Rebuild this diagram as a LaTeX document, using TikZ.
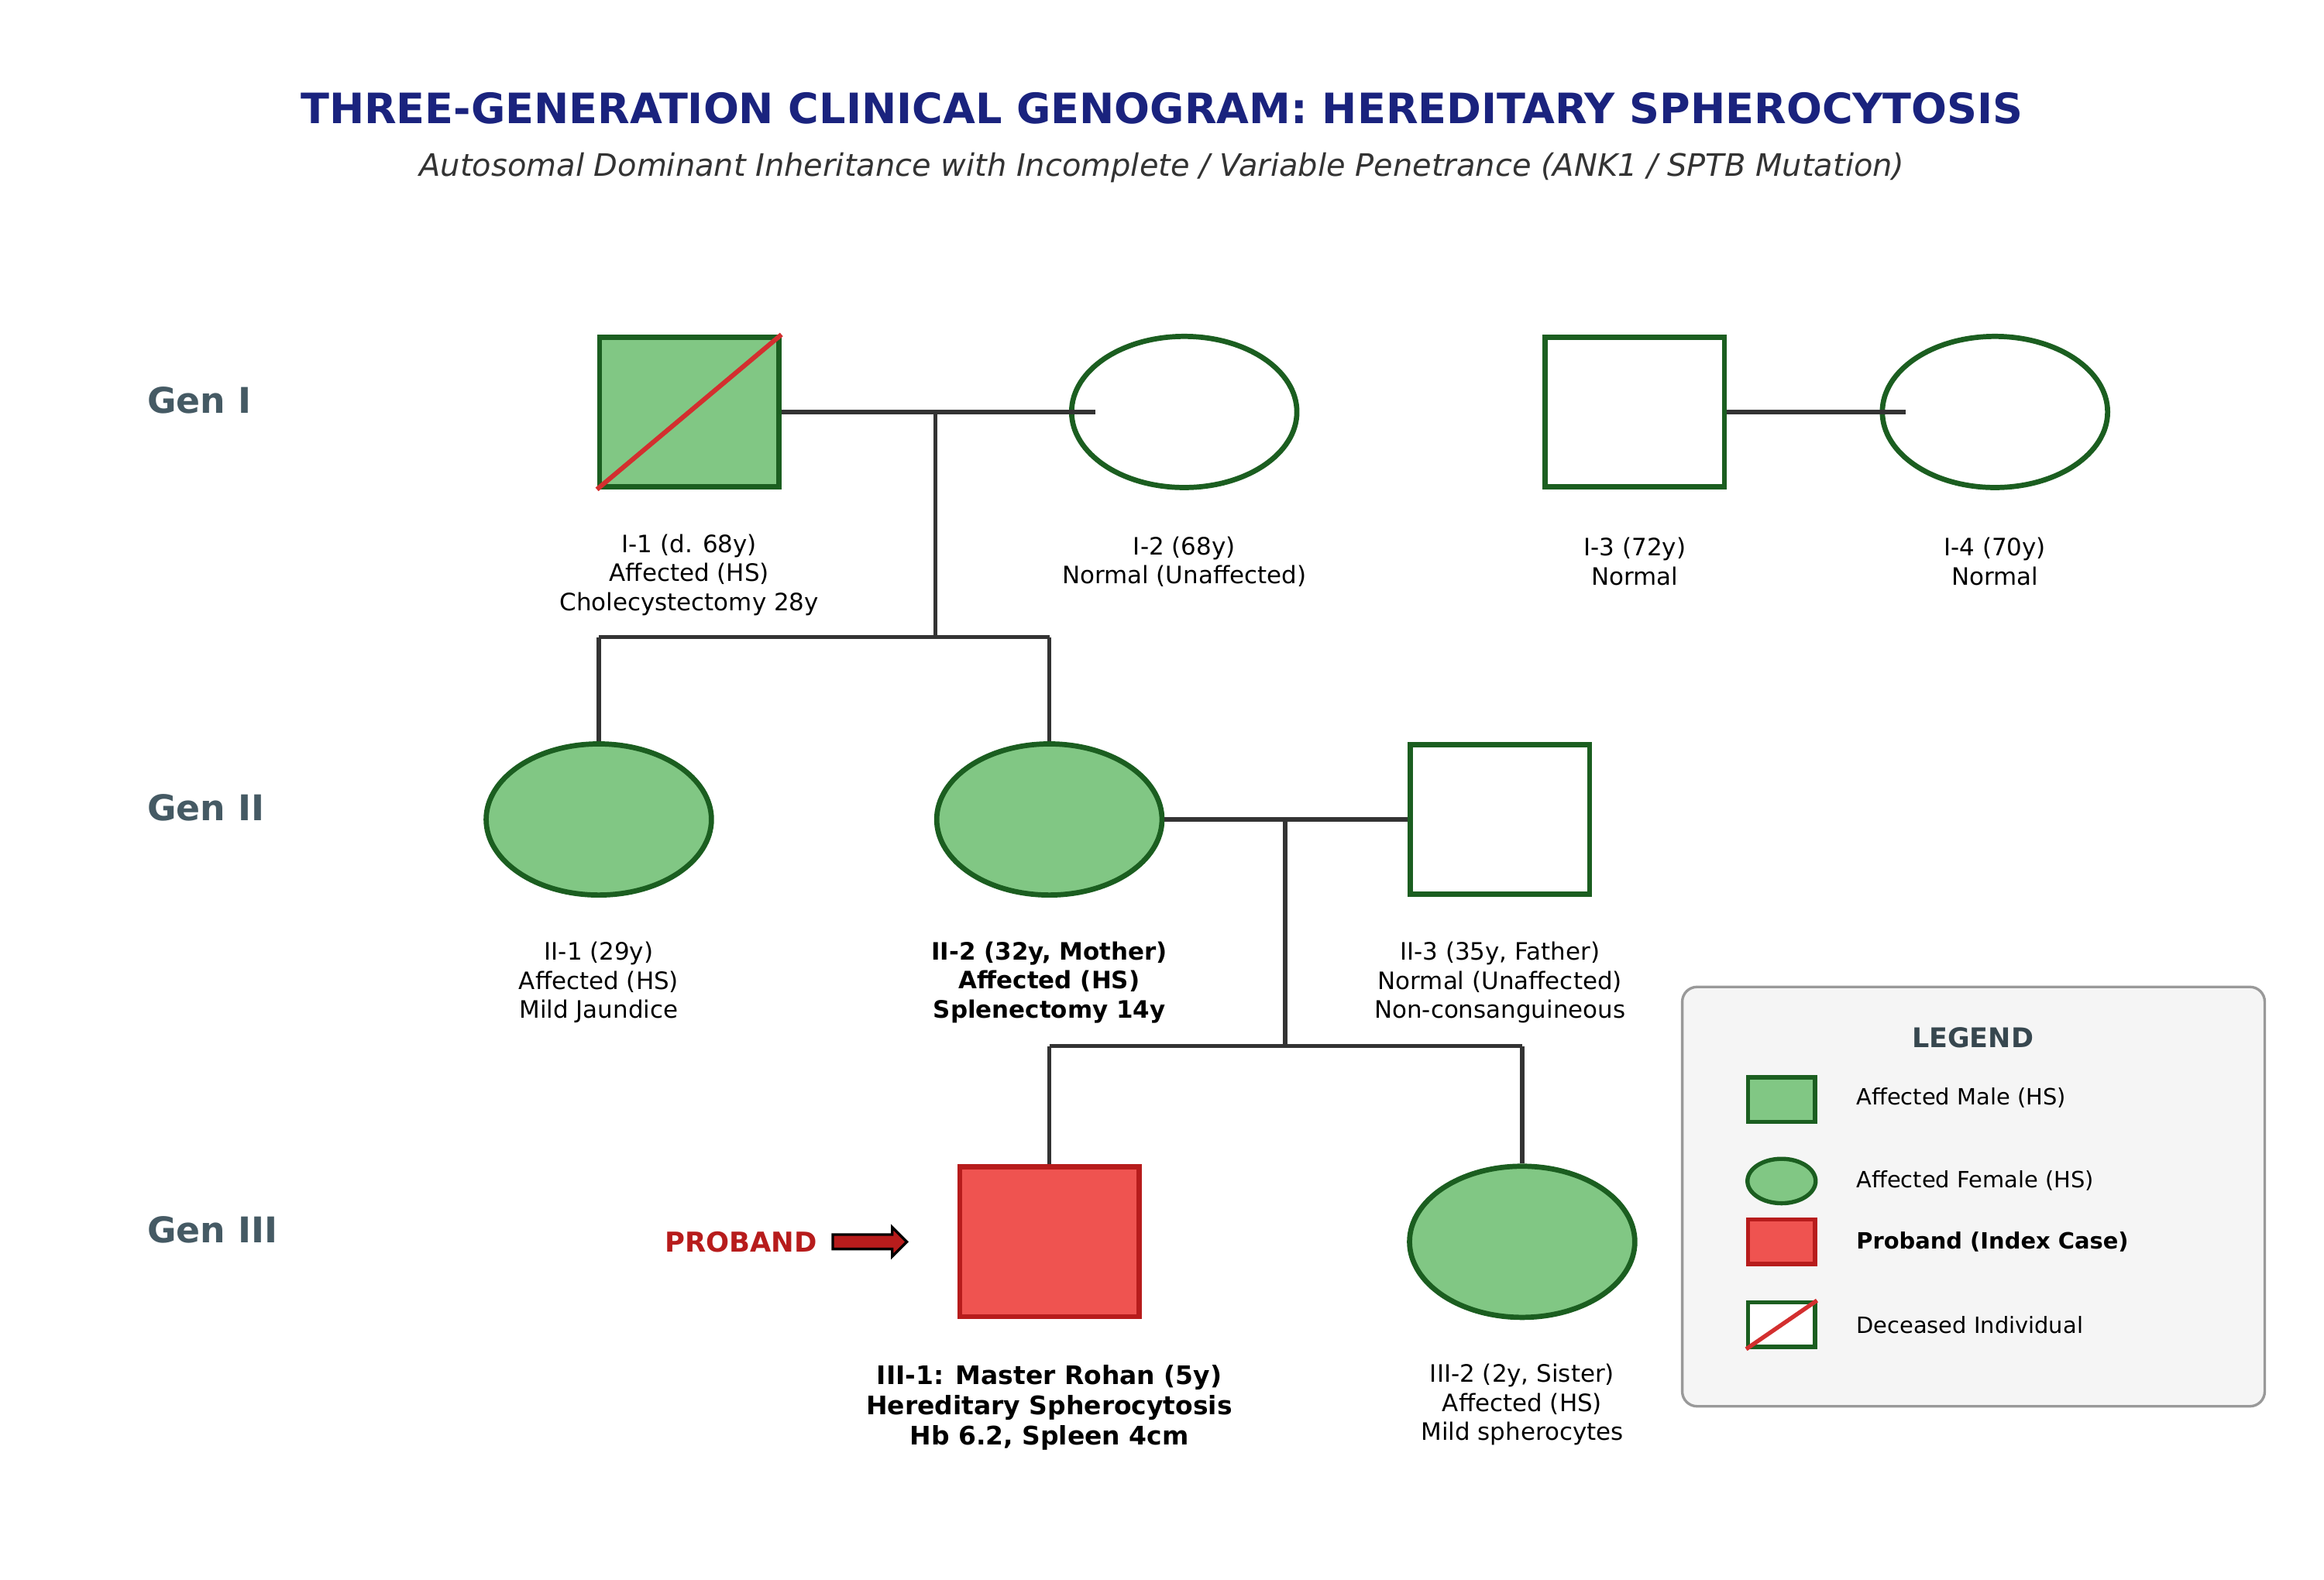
\documentclass[tikz,border=0pt]{standalone}
\usepackage{fontspec}
\setmainfont{DejaVu Sans}
\usetikzlibrary{shapes.geometric,shapes.arrows}
\definecolor{ggreen}{HTML}{81C784}
\definecolor{dgreen}{HTML}{1B5E20}
\definecolor{pred}{HTML}{EF5350}
\definecolor{dred}{HTML}{B71C1C}
\definecolor{lred}{HTML}{D32F2F}
\definecolor{navy}{HTML}{1A237E}
\definecolor{slate}{HTML}{455A64}
\definecolor{dslate}{HTML}{37474F}
\definecolor{lline}{HTML}{333333}
\begin{document}
\begin{tikzpicture}[x=0.05cm,y=-0.05cm,
  sq/.style={draw=dgreen,line width=5pt,rectangle,minimum width=6.05cm,minimum height=5.05cm,inner sep=0},
  el/.style={draw=dgreen,line width=5pt,ellipse,minimum width=7.6cm,minimum height=5.1cm,inner sep=0},
  aff/.style={fill=ggreen},
  con/.style={draw=lline,line width=4pt},
  lab/.style={align=center,font=\fontsize{23}{28}\selectfont},
  blab/.style={align=center,font=\fontsize{23}{28}\selectfont\bfseries},
  gen/.style={anchor=west,text=slate,font=\fontsize{34}{38}\selectfont\bfseries},
  leg/.style={anchor=west,font=\fontsize{21.5}{24}\selectfont}]
\useasboundingbox (0,0) rectangle (1568,1066);
\fill[white] (0,0) rectangle (1568,1066);
\node[text=navy,font=\fontsize{40.2}{46}\selectfont\bfseries] (title) at (784,73) {THREE-GENERATION CLINICAL GENOGRAM: HEREDITARY SPHEROCYTOSIS};
\node[text=lline,font=\fontsize{29.7}{34}\selectfont\itshape] (sub) at (784,113) {Autosomal Dominant Inheritance with Incomplete / Variable Penetrance (ANK1 / SPTB Mutation)};
\node[gen] (g1) at (97,270) {Gen I};
\node[gen] (g2) at (97,545) {Gen II};
\node[gen] (g3) at (97,830) {Gen III};
\coordinate (m1) at (631,278);
\coordinate (s1) at (631,430);
\coordinate (s1l) at (404,430);
\coordinate (s1r) at (708,430);
\coordinate (i2in) at (739,278);
\coordinate (i4in) at (1286,278);
\coordinate (m2) at (867,553);
\coordinate (s2) at (867,706);
\coordinate (s2l) at (708,706);
\coordinate (s2r) at (1027,706);
\draw[con] (1103,278) -- (i4in);
\draw[con] (m1) -- (s1);
\draw[con] (s1l) -- (s1r);
\draw[con] (s1l) -- (404,502);
\draw[con] (s1r) -- (708,502);
\draw[con] (708,553) -- (1012,553);
\draw[con] (s2l) -- (s2r);
% Gen I
\node[sq,aff] (I1) at (465,278) {};
\draw[lred,line width=4.5pt] (I1.south west) -- (I1.north east);
\node[el,fill=white] (I2) at (799,278) {};
\draw[con] (I1.east) -- (i2in);
\node[sq,fill=white] (I3) at (1103,278) {};
\node[el,fill=white] (I4) at (1346,278) {};
\draw[con] (I3.east) -- (i4in);
\node[lab] (lI1) at (465,388) {I-1 (d. 68y)\\Affected (HS)\\Cholecystectomy 28y};
\node[lab] (lI2) at (799,379) {I-2 (68y)\\Normal (Unaffected)};
\node[lab] (lI3) at (1103,379) {I-3 (72y)\\Normal};
\node[lab] (lI4) at (1346,379) {I-4 (70y)\\Normal};
% Gen II
\node[el,aff] (II1) at (404,553) {};
\node[el,aff] (II2) at (708,553) {};
\node[sq,fill=white] (II3) at (1012,553) {};
\draw[con] (II2.east) -- (II3.west);
\draw[con] (m2) -- (s2);
\node[lab] (lII1) at (404,663) {II-1 (29y)\\Affected (HS)\\Mild Jaundice};
\node[blab] (lII2) at (708,663) {II-2 (32y, Mother)\\Affected (HS)\\Splenectomy 14y};
\node[lab] (lII3) at (1012,663) {II-3 (35y, Father)\\Normal (Unaffected)\\Non-consanguineous};
% Gen III
\node[sq,fill=pred,draw=dred] (III1) at (708,838) {};
\node[el,aff] (III2) at (1027,838) {};
\draw[con] (s2l) -- (III1.north);
\draw[con] (s2r) -- (III2.north);
\node[text=dred,font=\fontsize{26.3}{30}\selectfont\bfseries] (prob) at (500,838) {PROBAND};
\node[single arrow,draw=black,fill=dred,line width=2.5pt,minimum height=2.5cm,single arrow head extend=0.25cm,inner sep=0.2cm,anchor=west] (parr) at (561,838) {};
\node[align=center,font=\fontsize{24.5}{29}\selectfont\bfseries] (lIII1) at (708,950) {III-1: Master Rohan (5y)\\Hereditary Spherocytosis\\Hb 6.2, Spleen 4cm};
\node[lab] (lIII2) at (1027,948) {III-2 (2y, Sister)\\Affected (HS)\\Mild spherocytes};
% legend
\draw[draw=black!40,fill=black!4,line width=2.5pt,rounded corners=0.5cm] (1135,666) rectangle (1528,949);
\node[text=dslate,font=\fontsize{26}{30}\selectfont\bfseries] (legt) at (1331,700) {LEGEND};
\node[sq,aff,minimum width=2.25cm,minimum height=1.5cm,line width=4pt] (L1) at (1202,742) {};
\node[leg] at (1250,741) {Affected Male (HS)};
\node[el,aff,minimum width=2.3cm,minimum height=1.5cm,line width=4pt] (L2) at (1202,797) {};
\node[leg] at (1250,797) {Affected Female (HS)};
\node[sq,fill=pred,draw=dred,minimum width=2.25cm,minimum height=1.5cm,line width=4pt] (L3) at (1202,838) {};
\node[leg,font=\fontsize{21.5}{24}\selectfont\bfseries] at (1250,838) {Proband (Index Case)};
\node[sq,fill=white,minimum width=2.25cm,minimum height=1.5cm,line width=4pt] (L4) at (1202,894) {};
\draw[lred,line width=4pt] (L4.south west) -- (L4.north east);
\node[leg] at (1250,894) {Deceased Individual};
\end{tikzpicture}
\end{document}
